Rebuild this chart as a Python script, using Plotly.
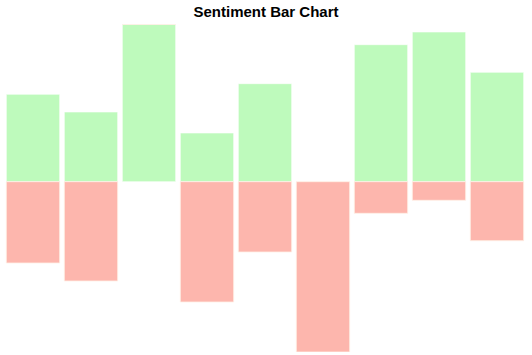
import plotly.graph_objects as go

categories = ["1", "2", "3", "4", "5", "6", "7", "8", "9"]
positive = [0.874, 0.697, 1.574, 0.487, 0.980, 0.0, 1.370, 1.497, 1.094]
negative = [-0.813, -0.993, 0.0, -1.203, -0.703, -1.703, -0.316, -0.186, -0.590]

fig = go.Figure()
fig.add_trace(go.Bar(x=categories, y=positive, name="Positive",
                     marker=dict(color="rgb(190,250,188)",
                                 line=dict(color="rgba(255,255,255,0.6)", width=1))))
fig.add_trace(go.Bar(x=categories, y=negative, name="Negative",
                     marker=dict(color="rgb(253,182,173)",
                                 line=dict(color="rgba(255,240,230,0.8)", width=1))))

fig.update_layout(
    width=532, height=355,
    barmode="relative", bargap=0.08,
    showlegend=False,
    plot_bgcolor="white", paper_bgcolor="white",
    margin=dict(l=4, r=6, t=24, b=3),
    title=dict(text="<b>Sentiment Bar Chart</b>", x=0.5, xanchor="center",
               y=1 - 12 / 355, yanchor="middle", yref="container",
               font=dict(family="Liberation Sans, Arial", size=15, color="black")),
    xaxis=dict(visible=False),
    yaxis=dict(visible=False, range=[-1.703, 1.577]),
)
fig.write_html("out.html")
